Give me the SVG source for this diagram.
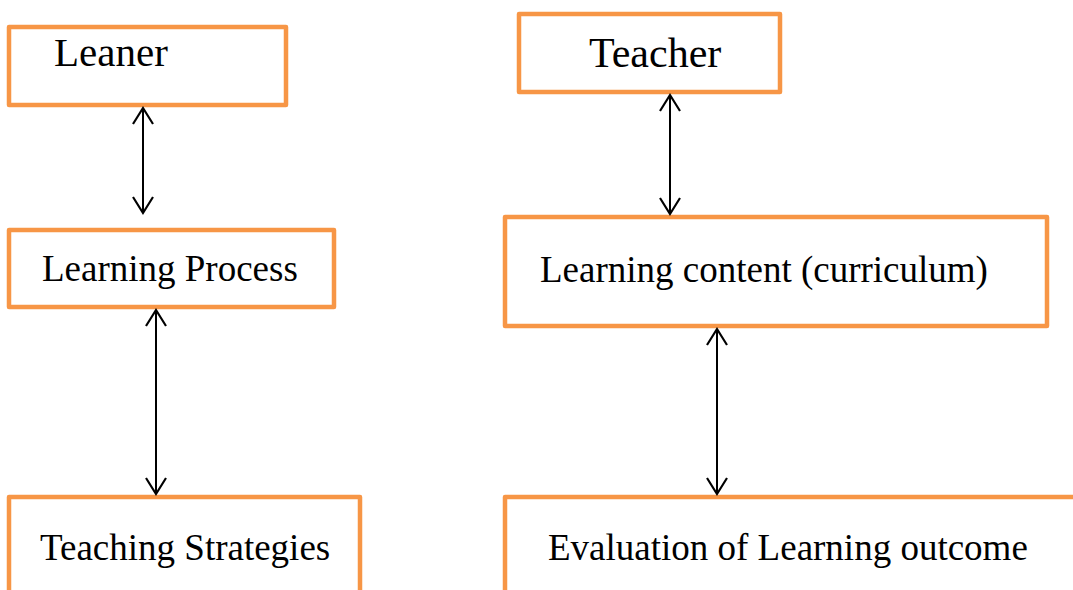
<svg xmlns="http://www.w3.org/2000/svg" width="1073" height="590" viewBox="0 0 1073 590">
<style>
.box{fill:#fff;stroke:#F79646;stroke-width:4.5;stroke-linejoin:round}
.lbl{font-family:"Liberation Serif","Times New Roman",serif;fill:#000;font-size:37px}
.big{font-size:41px}
.conn{stroke:#000;stroke-width:2;fill:none;marker-start:url(#ah);marker-end:url(#ah)}
</style>
<defs>
<marker id="ah" markerUnits="userSpaceOnUse" viewBox="-20 -12 24 24" markerWidth="24" markerHeight="24" refX="0" refY="0" orient="auto-start-reverse">
<path d="M-16,-10 L0,0 L-16,10" fill="none" stroke="#000" stroke-width="2.2"/>
</marker>
</defs>
<rect width="1073" height="590" fill="#fff"/>
<g id="leaner"><rect class="box" x="9" y="27" width="277" height="78"/><text class="lbl big" x="54" y="66">Leaner</text></g>
<g id="learning-process"><rect class="box" x="9" y="230" width="325" height="77"/><text class="lbl" x="42" y="281">Learning Process</text></g>
<g id="teaching-strategies"><rect class="box" x="9" y="497" width="351" height="110"/><text class="lbl" x="40" y="560">Teaching Strategies</text></g>
<g id="teacher"><rect class="box" x="519" y="14" width="261" height="78"/><text class="lbl big" x="589" y="67" style="font-size:42px">Teacher</text></g>
<g id="learning-content"><rect class="box" x="505" y="217" width="542" height="109"/><text class="lbl" x="540" y="282">Learning content (curriculum)</text></g>
<g id="evaluation"><rect class="box" x="505" y="497" width="620" height="110"/><text class="lbl" x="548" y="560">Evaluation of Learning outcome</text></g>
<g id="connectors">
<line class="conn" x1="143" y1="108" x2="143" y2="213"/>
<line class="conn" x1="156" y1="310" x2="156" y2="494"/>
<line class="conn" x1="670" y1="95" x2="670" y2="214"/>
<line class="conn" x1="717" y1="329" x2="717" y2="494"/>
</g>
</svg>
